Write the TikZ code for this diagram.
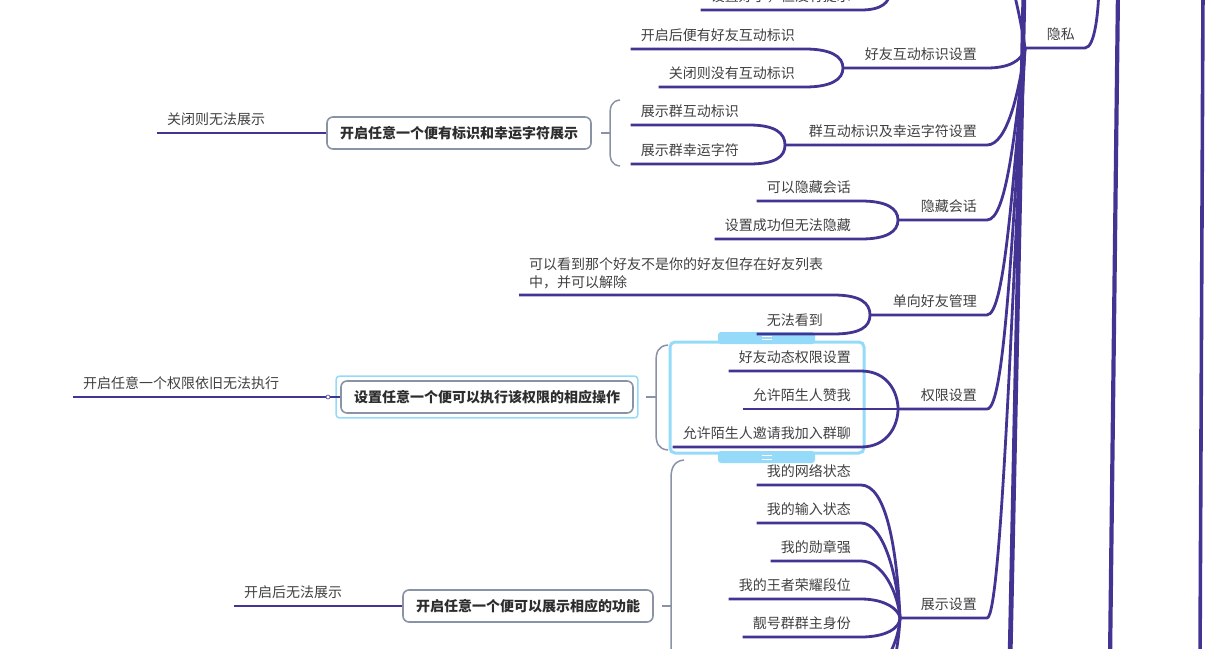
\documentclass[tikz,border=0pt]{standalone}
\usepackage{fontspec}
\newfontfamily\cjk{Noto Sans CJK SC}
\usetikzlibrary{positioning,calc}
\definecolor{mp}{HTML}{433494}
\definecolor{txt}{HTML}{404040}
\definecolor{boxgray}{HTML}{8A93A5}
\definecolor{selblue}{HTML}{95DBF9}

\begin{document}
\begin{tikzpicture}[x=1pt,y=-1pt,
		topic/.style={font=\cjk\fontsize{14}{18}\selectfont, text=txt, inner xsep=10pt, inner ysep=6pt, text height=11pt, text depth=2pt},
		topictwo/.style={font=\cjk\fontsize{14}{18}\selectfont, text=txt, inner xsep=10pt, inner ysep=6pt, align=left},
		summ/.style={draw=boxgray, line width=1.6pt, rounded corners=6pt, fill=white, font=\cjk\bfseries\fontsize{14}{18}\selectfont, text=txt!70!black, inner xsep=13pt, minimum height=32pt},
		br/.style={draw=mp, line width=2.8pt},
		trunk/.style={draw=mp, line width=4.8pt},
		brk/.style={draw=boxgray, line width=1.5pt},
		sel/.style={draw=selblue, line width=3pt, rounded corners=5pt},
		grip/.style={draw=white, line width=1pt},
		dot/.style={circle, draw=mp, fill=white, inner sep=0pt, minimum size=4pt, line width=0.6pt}]
	\useasboundingbox (0,0) rectangle (1207,648);
	\clip (0,0) rectangle (1207,648);

	% selection frame round the permission children
	\draw[sel] (670,342) rectangle (864,453);
	\fill[selblue, rounded corners=3pt] (718,332) rectangle (815,344);
	\fill[selblue, rounded corners=3pt] (718,451) rectangle (815,463);
	\draw[grip] (762,336) -- (772,336) (762,339.5) -- (772,339.5);
	\draw[grip] (762,455.5) -- (772,455.5) (762,459) -- (772,459);

	% free ends of branches leaving the view
	\coordinate (hub) at (1025,48);
	\coordinate (topsib) at (987,-60);
	\coordinate (privup) at (1099,-20);
	\coordinate (jtop) at (890,-9);
	\coordinate (ta) at (1024,-10);
	\coordinate (tb) at (1010,660);
	\coordinate (tc) at (1118,-10);
	\coordinate (td) at (1110,660);
	\coordinate (te) at (1203,-10);
	\coordinate (tf) at (1200,660);
	\coordinate (sx1) at (861,675);
	\coordinate (sx2) at (861,713);

	% junctions
	\coordinate (jf) at (843,68);
	\coordinate (jg) at (785,145);
	\coordinate (jh) at (898,220);
	\coordinate (jo) at (870,315);
	\coordinate (jp) at (898,409);
	\coordinate (js) at (900,618);

	\draw[trunk] (ta) -- (tb);
	\draw[trunk, line width=4.2pt] (tc) -- (td);
	\draw[trunk, line width=3.6pt] (te) -- (tf);

	\node[topic, anchor=south east] (priv) at (1085,48) {隐私};
	\node[topic, anchor=south east] (friend) at (987,68) {好友互动标识设置};
	\node[topic, anchor=south east] (group) at (987,145) {群互动标识及幸运字符设置};
	\node[topic, anchor=south east] (hide) at (987,220) {隐藏会话};
	\node[topic, anchor=south east] (oneway) at (987,315) {单向好友管理};
	\node[topic, anchor=south east] (perm) at (987,409) {权限设置};
	\node[topic, anchor=south east] (show) at (987,618) {展示设置};

	\node[topic, anchor=south east] (topc) at (861,10) {设置好了，但没有提示};
	\node[topic, anchor=south east] (f1) at (805,49) {开启后便有好友互动标识};
	\node[topic, anchor=south east] (f2) at (805,87) {关闭则没有互动标识};
	\node[topic, anchor=south east] (g1) at (749,125) {展示群互动标识};
	\node[topic, anchor=south east] (g2) at (749,164) {展示群幸运字符};
	\node[topic, anchor=south east] (h1) at (861,201) {可以隐藏会话};
	\node[topic, anchor=south east] (h2) at (861,239) {设置成功但无法隐藏};
	\node[topictwo, anchor=south west] (o1) at (519,295) {可以看到那个好友不是你的好友但存在好友列表\\中，并可以解除};
	\node[topic, anchor=south east] (o2) at (833,334) {无法看到};
	\node[topic, anchor=south east] (p1) at (861,371) {好友动态权限设置};
	\node[topic, anchor=south east] (p2) at (861,409) {允许陌生人赞我};
	\node[topic, anchor=south east] (p3) at (861,447) {允许陌生人邀请我加入群聊};
	\node[topic, anchor=south east] (s1) at (861,485) {我的网络状态};
	\node[topic, anchor=south east] (s2) at (861,523) {我的输入状态};
	\node[topic, anchor=south east] (s3) at (861,561) {我的勋章强};
	\node[topic, anchor=south east] (s4) at (861,599) {我的王者荣耀段位};
	\node[topic, anchor=south east] (s5) at (861,637) {靓号群群主身份};

	% level 2 to the hub
	\draw[br] (topsib) .. controls +(20,0) and +(-3,-20) .. (hub);
	\draw[br] (hub) -- (priv.south east) .. controls +(10,0) and +(0,30) .. (privup);
	\draw[br] (jf) -- (friend.south east) .. controls +(20,0) and +(-3,14) .. (hub);
	\draw[br] (jg) -- (group.south east) .. controls +(20,0) and +(-6,45) .. (hub);
	\draw[br] (jh) -- (hide.south east) .. controls +(20,0) and +(-10,80) .. (hub);
	\draw[br] (jo) -- (oneway.south east) .. controls +(18,0) and +(-12,130) .. (hub);
	\draw[br] (jp) -- (perm.south east) .. controls +(18,0) and +(-13,180) .. (hub);
	\draw[br] (js) -- (show.south east) .. controls +(14,0) and +(-13,250) .. (hub);

	% level 3
	\draw[br] (topc.south west) -- (topc.south east) .. controls +(20,0) and +(0,12) .. (jtop);
	\draw[br] (f1.south west) -- (f1.south east) .. controls +(25,0) and +(0,-12) .. (jf);
	\draw[br] (f2.south west) -- (f2.south east) .. controls +(25,0) and +(0,12) .. (jf);
	\draw[br] (g1.south west) -- (g1.south east) .. controls +(26,0) and +(0,-12) .. (jg);
	\draw[br] (g2.south west) -- (g2.south east) .. controls +(26,0) and +(0,12) .. (jg);
	\draw[br] (h1.south west) -- (h1.south east) .. controls +(25,0) and +(0,-12) .. (jh);
	\draw[br] (h2.south west) -- (h2.south east) .. controls +(25,0) and +(0,12) .. (jh);
	\draw[br] (o1.south west) -- (o1.south east) .. controls +(27,0) and +(0,-12) .. (jo);
	\draw[br] (o2.south west) -- (o2.south east) .. controls +(27,0) and +(0,12) .. (jo);
	\draw[br] (p1.south west) -- (p1.south east) .. controls +(27,0) and +(0,-16) .. (jp);
	\draw[br] (p2.south west) -- (p2.south east) -- (jp);
	\draw[br] (p3.south west) -- (p3.south east) .. controls +(27,0) and +(0,16) .. (jp);
	\draw[br] (s1.south west) -- (s1.south east) .. controls +(25,0) and +(-3,-70) .. (js);
	\draw[br] (s2.south west) -- (s2.south east) .. controls +(22,0) and +(-3,-45) .. (js);
	\draw[br] (s3.south west) -- (s3.south east) .. controls +(22,0) and +(-2,-25) .. (js);
	\draw[br] (s4.south west) -- (s4.south east) .. controls +(25,0) and +(-1,-8) .. (js);
	\draw[br] (s5.south west) -- (s5.south east) .. controls +(25,0) and +(0,10) .. (js);
	\draw[br] (js) .. controls +(-1,20) and +(25,0) .. (sx1);
	\draw[br] (js) .. controls +(-2,40) and +(25,0) .. (sx2);

	% summaries
	\draw[brk] (620,100) .. controls (611,101) and (610,107) .. (610,116) -- (610,150) .. controls (610,159) and (611,165) .. (620,166);
	\draw[brk] (668,345) .. controls (658,346) and (656,352) .. (656,362) -- (656,433) .. controls (656,443) and (658,449) .. (668,450);
	\draw[brk] (684,460) .. controls (674,461) and (671,468) .. (671,478) -- (671,660);
	\coordinate (k1) at (610,133);
	\coordinate (k2) at (656,397);
	\coordinate (k3) at (671,606);
	\draw[brk] (k1) -- ++(-9,0);
	\draw[brk] (k2) -- ++(-10,0);
	\draw[brk] (k3) -- ++(-9,0);

	\node[summ] (sum1) at (459,133) {开启任意一个便有标识和幸运字符展示};
	\node[summ] (sum2) at (487,397) {设置任意一个便可以执行该权限的相应操作};
	\node[summ] (sum3) at (528,606) {开启任意一个便可以展示相应的功能};
	\draw[draw=selblue, line width=1.5pt, rounded corners=3pt] ([shift={(-4pt,-4pt)}]sum2.south west) rectangle ([shift={(4pt,4pt)}]sum2.north east);

	\node[topic, anchor=south west] (l1) at (157,133) {关闭则无法展示};
	\node[topic, anchor=south west] (l2) at (73,397) {开启任意一个权限依旧无法执行};
	\node[topic, anchor=south west] (l3) at (234,606) {开启后无法展示};
	\draw[br] (l1.south west) -- (sum1.west);
	\draw[br] (l2.south west) -- (sum2.west);
	\draw[br] (l3.south west) -- (sum3.west);
	\node[dot] (knob) at (328,397) {};
\end{tikzpicture}
\end{document}
